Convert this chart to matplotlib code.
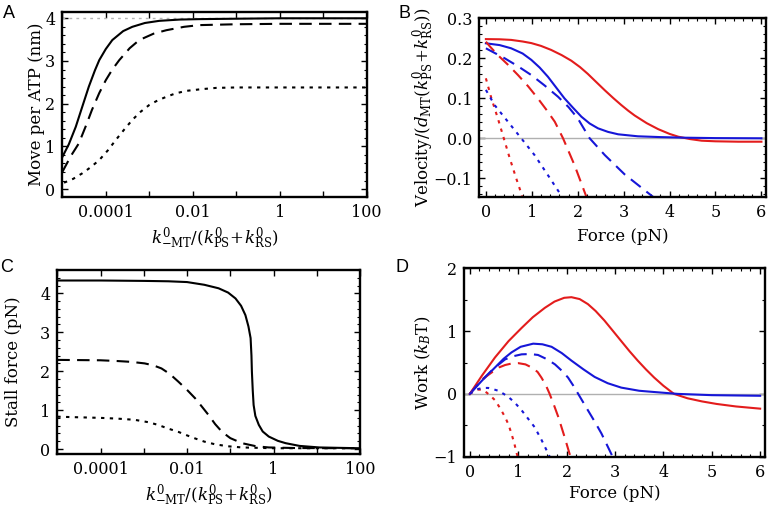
import matplotlib
matplotlib.use('Agg')
import matplotlib.pyplot as plt
import numpy as np
from matplotlib.ticker import MultipleLocator, NullFormatter

plt.rcParams['font.family'] = 'DejaVu Serif'
plt.rcParams['mathtext.fontset'] = 'custom'
plt.rcParams['mathtext.rm'] = 'DejaVu Serif'
plt.rcParams['mathtext.it'] = 'DejaVu Serif:italic'

RED = '#e31c1c'
BLUE = '#1616d8'

# --- A: move per ATP vs k-MT ratio (x given as log10 of the ratio) ---
a_solid_lx = [-5, -4.85, -4.69, -4.55, -4.39, -4.25, -4.15, -4.0, -3.85, -3.6, -3.39, -3.1, -2.77, -2.3, -1.85, -1, 0, 2]
a_solid_y = [0.75, 1.05, 1.46, 1.90, 2.40, 2.78, 3.02, 3.28, 3.49, 3.70, 3.80, 3.89, 3.94, 3.97, 3.98, 3.99, 4.0, 4.0]
a_dash_lx = [-5, -4.8, -4.62, -4.45, -4.32, -4.15, -4.0, -3.85, -3.69, -3.45, -3.23, -2.9, -2.61, -2.2, -1.85, -1, 0, 2]
a_dash_y = [0.40, 0.78, 1.07, 1.50, 1.85, 2.25, 2.55, 2.80, 3.02, 3.30, 3.49, 3.64, 3.72, 3.80, 3.84, 3.86, 3.87, 3.87]
a_dot_lx = [-4.96, -4.75, -4.54, -4.35, -4.15, -3.95, -3.77, -3.58, -3.39, -3.2, -3.0, -2.8, -2.61, -2.4, -2.15, -1.8, -1.46, -1, 2]
a_dot_y = [0.15, 0.24, 0.37, 0.51, 0.68, 0.91, 1.15, 1.39, 1.62, 1.81, 1.97, 2.08, 2.16, 2.24, 2.30, 2.34, 2.37, 2.38, 2.38]

# --- B: velocity vs force ---
b_red_solid_x = [0, 0.3, 0.55, 0.8, 0.99, 1.2, 1.42, 1.65, 1.86, 2.05, 2.22, 2.4, 2.59, 2.78, 2.95, 3.1, 3.24, 3.5, 3.75, 4.0, 4.19, 4.45, 4.7, 5.0, 5.5, 6.0]
b_red_solid_y = [0.248, 0.2475, 0.246, 0.242, 0.238, 0.231, 0.221, 0.208, 0.194, 0.178, 0.161, 0.141, 0.120, 0.100, 0.083, 0.069, 0.057, 0.038, 0.023, 0.011, 0.004, -0.002, -0.006, -0.0075, -0.0085, -0.0085]
b_blue_solid_x = [0, 0.3, 0.55, 0.8, 0.99, 1.17, 1.35, 1.53, 1.71, 1.9, 2.08, 2.26, 2.44, 2.66, 2.88, 3.31, 3.8, 4.34, 5.0, 6.0]
b_blue_solid_y = [0.2375, 0.233, 0.225, 0.212, 0.196, 0.177, 0.154, 0.127, 0.100, 0.076, 0.054, 0.037, 0.025, 0.016, 0.010, 0.005, 0.003, 0.0015, 0.0005, 0.0]
b_red_dash_x = [0, 0.1, 0.26, 0.48, 0.70, 0.92, 1.13, 1.32, 1.50, 1.68, 1.93, 2.16, 2.20]
b_red_dash_y = [0.2415, 0.228, 0.208, 0.184, 0.158, 0.130, 0.100, 0.071, 0.0415, 0.0, -0.067, -0.1375, -0.15]
b_blue_dash_x = [0, 0.41, 0.70, 0.99, 1.28, 1.57, 1.80, 2.00, 2.26, 2.59, 3.02, 3.35, 3.68]
b_blue_dash_y = [0.225, 0.200, 0.180, 0.158, 0.132, 0.104, 0.078, 0.050, 0.0, -0.042, -0.090, -0.120, -0.15]
b_red_dot_x = [0, 0.12, 0.26, 0.39, 0.52, 0.66, 0.77, 0.80]
b_red_dot_y = [0.150, 0.100, 0.050, 0.0, -0.050, -0.100, -0.1375, -0.15]
b_blue_dot_x = [0, 0.19, 0.48, 0.77, 1.06, 1.35, 1.61, 1.65]
b_blue_dot_y = [0.121, 0.083, 0.0415, 0.0, -0.042, -0.092, -0.1375, -0.15]

# --- C: stall force vs k-MT ratio (x as log10) ---
c_solid_lx = [-5, -4, -3, -2.43, -2, -1.6, -1.27, -1.05, -0.88, -0.75, -0.65, -0.58, -0.53, -0.51, -0.50, -0.48, -0.46, -0.42, -0.34, -0.25, -0.11, 0.1, 0.28, 0.6, 1.06, 1.5, 2]
c_solid_y = [4.33, 4.33, 4.32, 4.31, 4.29, 4.22, 4.13, 4.02, 3.87, 3.68, 3.44, 3.15, 2.85, 2.4, 1.99, 1.5, 1.13, 0.85, 0.62, 0.45, 0.32, 0.21, 0.15, 0.08, 0.04, 0.03, 0.02]
c_dash_lx = [-5, -4, -3.6, -3.3, -2.98, -2.78, -2.59, -2.4, -2.2, -2.0, -1.81, -1.65, -1.5, -1.35, -1.19, -1.0, -0.73, -0.4, -0.11, 0.5, 2]
c_dash_y = [2.29, 2.28, 2.26, 2.24, 2.20, 2.15, 2.07, 1.93, 1.73, 1.52, 1.30, 1.08, 0.87, 0.64, 0.44, 0.28, 0.15, 0.07, 0.04, 0.025, 0.02]
c_dot_lx = [-5, -4, -3.6, -3.21, -2.9, -2.67, -2.45, -2.2, -2.0, -1.81, -1.6, -1.35, -1.05, -0.73, 0, 2]
c_dot_y = [0.83, 0.80, 0.78, 0.75, 0.69, 0.62, 0.53, 0.44, 0.35, 0.27, 0.19, 0.12, 0.07, 0.04, 0.02, 0.02]

# --- D: work vs force ---
d_red_solid_x = [0, 0.25, 0.52, 0.8, 1.07, 1.3, 1.55, 1.75, 1.95, 2.1, 2.27, 2.44, 2.6, 2.78, 2.95, 3.13, 3.3, 3.47, 3.64, 3.81, 4.0, 4.22, 4.5, 4.8, 5.1, 5.5, 6.0]
d_red_solid_y = [0, 0.29, 0.58, 0.84, 1.05, 1.22, 1.37, 1.47, 1.53, 1.54, 1.51, 1.43, 1.32, 1.17, 1.01, 0.84, 0.68, 0.53, 0.39, 0.26, 0.13, 0.0, -0.07, -0.12, -0.16, -0.20, -0.235]
d_blue_solid_x = [0, 0.25, 0.52, 0.7, 0.86, 1.05, 1.31, 1.5, 1.69, 1.9, 2.1, 2.35, 2.58, 2.85, 3.13, 3.5, 3.81, 4.3, 5.0, 6.0]
d_blue_solid_y = [0, 0.21, 0.42, 0.56, 0.66, 0.75, 0.80, 0.79, 0.75, 0.65, 0.53, 0.39, 0.27, 0.17, 0.10, 0.05, 0.03, 0.0, -0.02, -0.03]
d_red_dash_x = [0, 0.2, 0.45, 0.6, 0.73, 0.87, 1.0, 1.15, 1.28, 1.4, 1.48, 1.57, 1.65, 1.74, 1.83, 1.96, 2.06, 2.08]
d_red_dash_y = [0, 0.2, 0.34, 0.42, 0.46, 0.485, 0.49, 0.47, 0.42, 0.35, 0.26, 0.14, 0.0, -0.18, -0.37, -0.69, -0.95, -1.0]
d_blue_dash_x = [0, 0.2, 0.45, 0.6, 0.73, 0.9, 1.07, 1.25, 1.41, 1.6, 1.76, 1.9, 2.03, 2.14, 2.24, 2.34, 2.44, 2.58, 2.72, 2.82, 2.92, 2.95]
d_blue_dash_y = [0, 0.18, 0.37, 0.47, 0.55, 0.60, 0.63, 0.635, 0.62, 0.55, 0.47, 0.37, 0.26, 0.13, 0.0, -0.13, -0.26, -0.44, -0.63, -0.79, -0.95, -1.0]
d_red_dot_x = [0, 0.1, 0.18, 0.27, 0.35, 0.44, 0.52, 0.62, 0.73, 0.8, 0.86, 0.92, 0.97, 0.99]
d_red_dot_y = [0, 0.05, 0.07, 0.06, 0.02, -0.04, -0.10, -0.22, -0.37, -0.49, -0.63, -0.79, -0.95, -1.0]
d_blue_dot_x = [0, 0.1, 0.18, 0.28, 0.38, 0.48, 0.59, 0.7, 0.8, 0.93, 1.07, 1.2, 1.34, 1.48, 1.62, 1.65]
d_blue_dot_y = [0, 0.05, 0.08, 0.095, 0.095, 0.075, 0.05, 0.0, -0.05, -0.14, -0.26, -0.39, -0.53, -0.73, -0.95, -1.0]

log_ticks = [1e-4, 1e-2, 1, 100]
log_labels = ['0.0001', '0.01', '1', '100']
ratio_label = r'$k^{0}_{-\mathrm{MT}}/(k^{0}_{\mathrm{PS}}\!+\!k^{0}_{\mathrm{RS}})$'

DASH = (0, (6, 3.5))
DOT = (0, (1.6, 2.6))
LW = 1.5

fig = plt.figure(figsize=(7.73, 5.09), dpi=100)
W, H = 773, 509


def make_ax(left, right, top, bottom):
    return fig.add_axes([left / W, 1 - bottom / H, (right - left) / W, (bottom - top) / H])


def style(ax):
    for s in ax.spines.values():
        s.set_linewidth(1.7)
    ax.tick_params(which='both', direction='in', top=True, right=True, labelsize=11.5, pad=5)
    ax.tick_params(which='major', length=4, width=1)
    ax.tick_params(which='minor', length=2, width=0.8)


def log_axis(ax):
    ax.set_xscale('log')
    ax.set_xlim(1e-5, 100)
    ax.set_xticks(log_ticks, log_labels)
    ax.set_xticks([1e-5, 1e-3, 1e-1, 10], minor=True)
    ax.tick_params(axis='x', which='minor', length=4, width=1)
    ax.xaxis.set_minor_formatter(NullFormatter())


def place_labels(ax, ylab_right, xlab_top, left, right, top, bottom):
    ax.yaxis.set_label_coords((ylab_right - left) / (right - left), 0.5)
    ax.xaxis.set_label_coords(0.5, (bottom - xlab_top) / (bottom - top))
    ax.xaxis.label.set_va('top')


# A
axA = make_ax(62.3, 366.7, 12, 197)
style(axA)
log_axis(axA)
axA.axhline(4, color='#b5b5b5', lw=1, ls=(0, (2, 3)))
axA.plot(np.power(10.0, a_solid_lx), a_solid_y, color='black', lw=LW)
axA.plot(np.power(10.0, a_dash_lx), a_dash_y, color='black', lw=LW, ls=DASH)
axA.plot(np.power(10.0, a_dot_lx), a_dot_y, color='black', lw=LW, ls=DOT)
axA.set_ylim(-0.185, 4.147)
axA.yaxis.set_major_locator(MultipleLocator(1))
axA.yaxis.set_minor_locator(MultipleLocator(0.2))
axA.set_ylabel('Move per ATP (nm)', fontsize=12)
axA.set_xlabel(ratio_label, fontsize=12)
place_labels(axA, 45, 226, 62.3, 366.7, 12, 197)

# B
axB = make_ax(479, 766, 18.3, 196.7)
style(axB)
axB.axhline(0, color='#b0b0b0', lw=1)
axB.plot(b_red_solid_x, b_red_solid_y, color=RED, lw=LW)
axB.plot(b_blue_solid_x, b_blue_solid_y, color=BLUE, lw=LW)
axB.plot(b_red_dash_x, b_red_dash_y, color=RED, lw=LW, ls=DASH)
axB.plot(b_blue_dash_x, b_blue_dash_y, color=BLUE, lw=LW, ls=DASH)
axB.plot(b_red_dot_x, b_red_dot_y, color=RED, lw=LW, ls=DOT)
axB.plot(b_blue_dot_x, b_blue_dot_y, color=BLUE, lw=LW, ls=DOT)
axB.set_xlim(-0.15, 6.1)
axB.set_ylim(-0.146, 0.3)
axB.xaxis.set_major_locator(MultipleLocator(1))
axB.xaxis.set_minor_locator(MultipleLocator(0.2))
axB.yaxis.set_major_locator(MultipleLocator(0.1))
axB.yaxis.set_minor_locator(MultipleLocator(0.02))
axB.yaxis.set_major_formatter(lambda v, p: f'{v:.1f}'.replace('-', '\u2212'))
axB.set_ylabel(r'Velocity/$(d_{\mathrm{MT}}(k^{0}_{\mathrm{PS}}\!+\!k^{0}_{\mathrm{RS}}))$', fontsize=12)
axB.set_xlabel('Force (pN)', fontsize=12)
place_labels(axB, 437, 228, 479, 766, 18.3, 196.7)

# C
axC = make_ax(57.3, 360, 270, 454.3)
style(axC)
log_axis(axC)
axC.plot(np.power(10.0, c_solid_lx), c_solid_y, color='black', lw=LW)
axC.plot(np.power(10.0, c_dash_lx), c_dash_y, color='black', lw=LW, ls=DASH)
axC.plot(np.power(10.0, c_dot_lx), c_dot_y, color='black', lw=LW, ls=DOT)
axC.set_ylim(-0.136, 4.6)
axC.yaxis.set_major_locator(MultipleLocator(1))
axC.yaxis.set_minor_locator(MultipleLocator(0.2))
axC.set_ylabel('Stall force (pN)', fontsize=12)
axC.set_xlabel(ratio_label, fontsize=12)
place_labels(axC, 22, 483, 57.3, 360, 270, 454.3)

# D
axD = make_ax(464, 765, 268.3, 456.7)
style(axD)
axD.axhline(0, color='#b0b0b0', lw=1)
axD.plot(d_red_solid_x, d_red_solid_y, color=RED, lw=LW)
axD.plot(d_blue_solid_x, d_blue_solid_y, color=BLUE, lw=LW)
axD.plot(d_red_dash_x, d_red_dash_y, color=RED, lw=LW, ls=DASH)
axD.plot(d_blue_dash_x, d_blue_dash_y, color=BLUE, lw=LW, ls=DASH)
axD.plot(d_red_dot_x, d_red_dot_y, color=RED, lw=LW, ls=DOT)
axD.plot(d_blue_dot_x, d_blue_dot_y, color=BLUE, lw=LW, ls=DOT)
axD.set_xlim(-0.12, 6.1)
axD.set_ylim(-1, 2)
axD.xaxis.set_major_locator(MultipleLocator(1))
axD.xaxis.set_minor_locator(MultipleLocator(0.2))
axD.yaxis.set_major_locator(MultipleLocator(1))
axD.yaxis.set_minor_locator(MultipleLocator(0.5))
axD.yaxis.set_major_formatter(lambda v, p: f'{v:.0f}'.replace('-', '\u2212'))
axD.set_ylabel(r'Work ($k_B$T)', fontsize=12)
axD.set_xlabel('Force (pN)', fontsize=12)
place_labels(axD, 433, 485, 464, 765, 268.3, 456.7)

for lbl, x, y in [('A', 9, 14), ('B', 404, 14), ('C', 7, 268), ('D', 402, 268)]:
    fig.text(x / W, 1 - y / H, lbl, family='Liberation Sans', fontsize=13,
             ha='center', va='center')

fig.savefig('out.png', dpi=100)
